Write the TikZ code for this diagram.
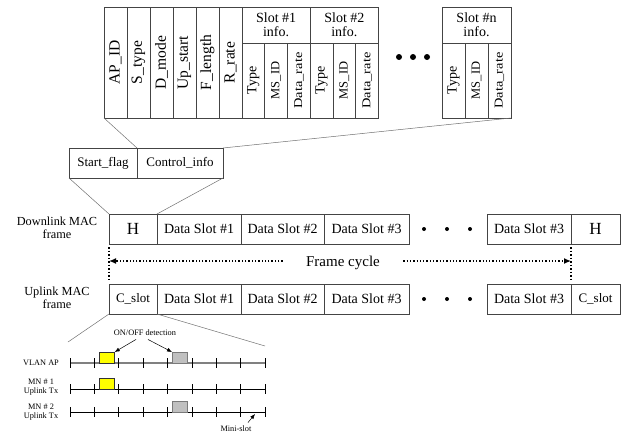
\documentclass[tikz,border=0pt]{standalone}
\usepackage{fontspec}
\setmainfont{Liberation Serif}
\usepackage{graphicx}
\usetikzlibrary{arrows.meta}
\definecolor{linec}{HTML}{444444}
\definecolor{connc}{HTML}{707070}
\definecolor{ylw}{HTML}{FFFF00}
\definecolor{gryf}{HTML}{C0C0C0}
\definecolor{gryd}{HTML}{7A7A7A}
\newcommand\ftab{\fontsize{15.5}{15.5}\selectfont}
\newcommand\ftype{\fontsize{14}{14}\selectfont}
\newcommand\fmsid{\fontsize{12.5}{12.5}\selectfont}
\newcommand\fdr{\fontsize{12}{12}\selectfont}
\newcommand\fslot{\fontsize{14}{14}\selectfont}
\newcommand\fmid{\fontsize{13}{13}\selectfont}
\newcommand\fdata{\fontsize{14}{14}\selectfont}
\newcommand\fbig{\fontsize{15}{15}\selectfont}
\newcommand\fhh{\fontsize{17}{17}\selectfont}
\newcommand\flab{\fontsize{12.3}{13}\selectfont}
\newcommand\fsm{\fontsize{8.3}{9.5}\selectfont}
\newcommand\vtxt[1]{\rotatebox{90}{#1}}
\newcommand\vtxtw[1]{\rotatebox{90}{\scalebox{1.2}[1]{#1}}}
\begin{document}
\begin{tikzpicture}[x=1pt,y=-1pt,
  cellbox/.style={draw=linec, line width=0.7pt, inner sep=0pt, outer sep=0pt, anchor=north west},
  conn/.style={draw=connc, line width=0.5pt},
  bigdot/.style={circle, fill=black, inner sep=0pt, minimum size=6pt},
  smalldot/.style={circle, fill=black, inner sep=0pt, minimum size=4pt},
  fcarrow/.style={dotted, line width=1.3pt, -{Latex[length=7pt,width=6pt]}},
  vdot/.style={dotted, line width=1.5pt},
  tickline/.style={line width=0.6pt, draw=black},
  apline/.style={line width=1.2pt, draw=gray},
  mnline/.style={line width=0.6pt, draw=black},
  ybox/.style={draw=black!80, line width=0.7pt, fill=ylw, anchor=north west, minimum width=15pt, minimum height=11pt, inner sep=0pt},
  gbox/.style={draw=gryd, line width=0.9pt, fill=gryf, anchor=north west, minimum width=15pt, minimum height=11pt, inner sep=0pt},
  sarrow/.style={line width=0.5pt, -{Latex[length=5pt,width=4pt]}},
]
\useasboundingbox (0,0) rectangle (623,434);

% ---------- top table ----------
\node[cellbox, minimum width=23pt, minimum height=111pt] (ap) at (104,7) {\ftab\vtxt{AP\_ID}};
\node[cellbox, minimum width=23pt, minimum height=111pt] (st) at (127,7) {\ftab\vtxt{S\_type}};
\node[cellbox, minimum width=23pt, minimum height=111pt] (dm) at (150,7) {\ftab\vtxt{D\_mode}};
\node[cellbox, minimum width=23pt, minimum height=111pt] (us) at (173,7) {\ftab\vtxt{Up\_start}};
\node[cellbox, minimum width=23pt, minimum height=111pt] (fl) at (196,7) {\ftab\vtxt{F\_length}};
\node[cellbox, minimum width=23pt, minimum height=111pt] (rr) at (219,7) {\ftab\vtxt{R\_rate}};

\node[cellbox, minimum width=68.25pt, minimum height=36pt, align=center, font=\fslot] (s1h) at (242,7) {Slot \#1\\info.};
\node[cellbox, minimum width=22.75pt, minimum height=75pt] (s1t) at (242,43) {\ftype\vtxt{Type}};
\node[cellbox, minimum width=22.75pt, minimum height=75pt] (s1m) at (264.75,43) {\fmsid\vtxt{MS\_ID}};
\node[cellbox, minimum width=22.75pt, minimum height=75pt] (s1d) at (287.5,43) {\fdr\vtxtw{Data\_rate}};

\node[cellbox, minimum width=68.25pt, minimum height=36pt, align=center, font=\fslot] (s2h) at (310.25,7) {Slot \#2\\info.};
\node[cellbox, minimum width=22.75pt, minimum height=75pt] (s2t) at (310.25,43) {\ftype\vtxt{Type}};
\node[cellbox, minimum width=22.75pt, minimum height=75pt] (s2m) at (333,43) {\fmsid\vtxt{MS\_ID}};
\node[cellbox, minimum width=22.75pt, minimum height=75pt] (s2d) at (355.75,43) {\fdr\vtxtw{Data\_rate}};

\node[bigdot] (td1) at (399,57) {};
\node[bigdot] (td2) at (413,57) {};
\node[bigdot] (td3) at (427,57) {};

\node[cellbox, minimum width=69pt, minimum height=36pt, align=center, font=\fslot] (snh) at (442,7) {Slot \#n\\info.};
\node[cellbox, minimum width=23pt, minimum height=75pt] (snt) at (442,43) {\ftype\vtxt{Type}};
\node[cellbox, minimum width=23pt, minimum height=75pt] (snm) at (465,43) {\fmsid\vtxt{MS\_ID}};
\node[cellbox, minimum width=23pt, minimum height=75pt] (snd) at (488,43) {\fdr\vtxtw{Data\_rate}};

% ---------- Start_flag / Control_info ----------
\node[cellbox, minimum width=68pt, minimum height=30pt, font=\fmid] (sf) at (69,148) {Start\_flag};
\node[cellbox, minimum width=86pt, minimum height=30pt, font=\fmid] (ci) at (137,148) {Control\_info};

\draw[conn] (ap.south west) -- (sf.north east);
\draw[conn] (snd.south east) -- (ci.north east);

% ---------- Downlink frame ----------
\node[font=\flab, align=center] (dll) at (57,228) {Downlink MAC\\frame};
\node[cellbox, minimum width=48pt, minimum height=30pt, font=\fhh] (dh) at (109,214) {H};
\node[cellbox, minimum width=84pt, minimum height=30pt, font=\fdata] (d1) at (157,214) {Data Slot \#1};
\node[cellbox, minimum width=83pt, minimum height=30pt, font=\fdata] (d2) at (241,214) {Data Slot \#2};
\node[cellbox, minimum width=85pt, minimum height=30pt, font=\fdata] (d3) at (324,214) {Data Slot \#3};
\node[smalldot] (dd1) at (424,229) {};
\node[smalldot] (dd2) at (447,229) {};
\node[smalldot] (dd3) at (470,229) {};
\node[cellbox, minimum width=84pt, minimum height=30pt, font=\fdata] (d3b) at (487,214) {Data Slot \#3};
\node[cellbox, minimum width=49pt, minimum height=30pt, font=\fhh] (dh2) at (571,214) {H};

\draw[conn] (sf.south west) -- (dh.north west);
\draw[conn] (ci.south east) -- (dh.north east);

% ---------- Frame cycle ----------
\node[font=\fbig] (fc) at (343,263) {Frame cycle};
\coordinate (fcl) at ([xshift=-20pt,yshift=2pt]fc.west);
\coordinate (fcr) at ([xshift=20pt,yshift=2pt]fc.east);

% ---------- Uplink frame ----------
\node[font=\flab, align=center] (ull) at (57,298) {Uplink MAC\\frame};
\node[cellbox, minimum width=48pt, minimum height=30pt, font=\fmid] (uc) at (109,284) {C\_slot};
\node[cellbox, minimum width=84pt, minimum height=30pt, font=\fdata] (u1) at (157,284) {Data Slot \#1};
\node[cellbox, minimum width=83pt, minimum height=30pt, font=\fdata] (u2) at (241,284) {Data Slot \#2};
\node[cellbox, minimum width=85pt, minimum height=30pt, font=\fdata] (u3) at (324,284) {Data Slot \#3};
\node[smalldot] (ud1) at (424,299) {};
\node[smalldot] (ud2) at (447,299) {};
\node[smalldot] (ud3) at (470,299) {};
\node[cellbox, minimum width=84pt, minimum height=30pt, font=\fdata] (u3b) at (487,284) {Data Slot \#3};
\node[cellbox, minimum width=49pt, minimum height=30pt, font=\fmid] (uc2) at (571,284) {C\_slot};

\draw[vdot] ([yshift=-3pt]dh.south west) -- ([yshift=3pt]uc.north west);
\draw[vdot] ([yshift=-3pt]dh2.south west) -- ([yshift=3pt]uc2.north west);
\draw[fcarrow] (fcl) -- (dh.west |- fcl);
\draw[fcarrow] (fcr) -- (dh2.west |- fcr);

% ---------- timing detail ----------
\coordinate (zl) at (68,342);
\coordinate (zr) at (265,346);
\draw[conn] (uc.south west) -- (zl);
\draw[conn] (uc.south east) -- (zr);

\coordinate (apS) at (70,363);
\coordinate (apE) at (265,363);
\coordinate (m1S) at (70,389);
\coordinate (m1E) at (265,389);
\coordinate (m2S) at (70,412);
\coordinate (m2E) at (265,412);
\draw[apline] (apS) -- (apE);
\draw[mnline] (m1S) -- (m1E);
\draw[mnline] (m2S) -- (m2E);
\foreach \k in {0,...,8} {
  \draw[tickline] (70+24.375*\k,358) -- (70+24.375*\k,368);
  \draw[tickline] (70+24.375*\k,384) -- (70+24.375*\k,394);
  \draw[tickline] (70+24.375*\k,407) -- (70+24.375*\k,417);
}

\node[ybox] (yb1) at (99,352) {};
\node[gbox] (gb1) at (172,352) {};
\node[ybox] (yb2) at (99,378) {};
\node[gbox] (gb2) at (172,401) {};

\node[font=\fsm] (lap) at (41,363) {VLAN AP};
\node[font=\fsm, align=center] (lm1) at (41,387) {MN \# 1\\Uplink Tx};
\node[font=\fsm, align=center] (lm2) at (41,412) {MN \# 2\\Uplink Tx};

\node[font=\fsm] (onoff) at (145,333) {ON/OFF detection};
\draw[sarrow] ([xshift=-9pt]onoff.south) -- (yb1.north east);
\draw[sarrow] ([xshift=3pt]onoff.south) -- (gb1.north west);

\node[font=\fsm] (ms) at (236,429) {Mini-slot};
\coordinate (msp) at (255,414);
\draw[sarrow] ([xshift=12pt]ms.north) -- (msp);
\end{tikzpicture}
\end{document}
